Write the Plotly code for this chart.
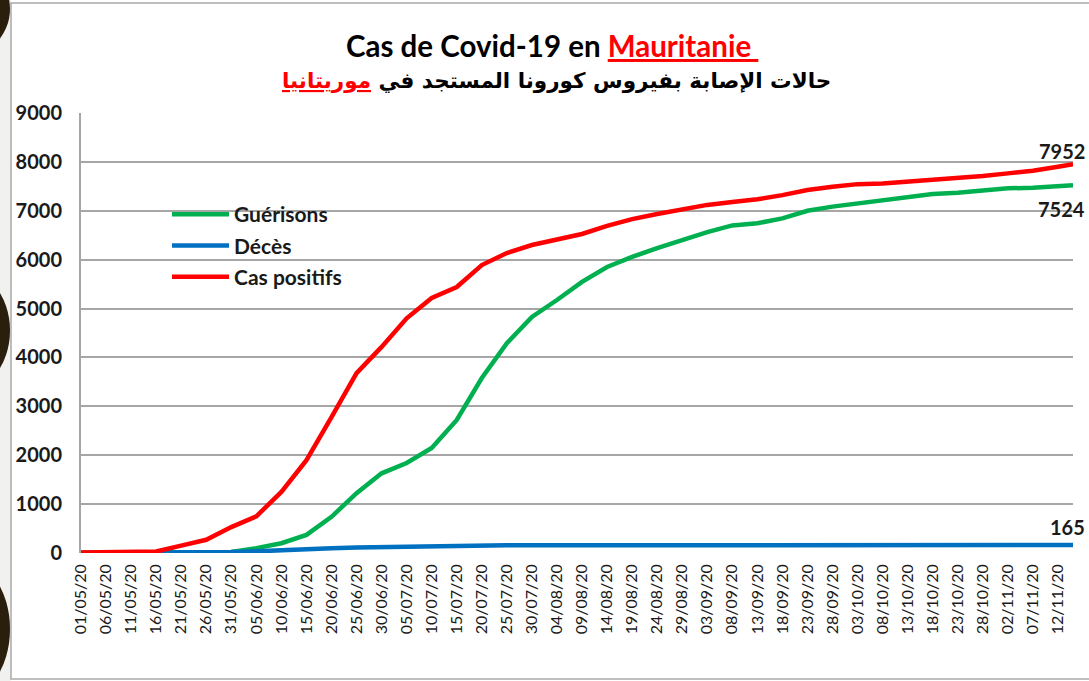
import plotly.graph_objects as go

# ---------------- data ----------------
dates = ["2020-05-01", "2020-05-06", "2020-05-11", "2020-05-16", "2020-05-21", "2020-05-26",
         "2020-05-31", "2020-06-05", "2020-06-10", "2020-06-15", "2020-06-20", "2020-06-25",
         "2020-06-30", "2020-07-05", "2020-07-10", "2020-07-15", "2020-07-20", "2020-07-25",
         "2020-07-30", "2020-08-04", "2020-08-09", "2020-08-14", "2020-08-19", "2020-08-24",
         "2020-08-29", "2020-09-03", "2020-09-08", "2020-09-13", "2020-09-18", "2020-09-23",
         "2020-09-28", "2020-10-03", "2020-10-08", "2020-10-13", "2020-10-18", "2020-10-23",
         "2020-10-28", "2020-11-02", "2020-11-07", "2020-11-12", "2020-11-15"]

cas_positifs = [8, 8, 9, 30, 150, 270, 530, 750, 1250, 1900, 2780, 3680, 4215, 4800, 5215,
                5440, 5890, 6135, 6300, 6420, 6525, 6690, 6830, 6935, 7035, 7120, 7180, 7235,
                7320, 7425, 7490, 7545, 7560, 7595, 7640, 7685, 7710, 7765, 7820, 7900, 7952]

guerisons = [6, 6, 6, 7, 8, 9, 20, 100, 200, 370, 740, 1225, 1630, 1840, 2150, 2720, 3580,
             4290, 4830, 5175, 5545, 5850, 6055, 6235, 6400, 6565, 6700, 6745, 6845, 7000,
             7085, 7150, 7235, 7300, 7345, 7370, 7425, 7460, 7470, 7505, 7524]

deces = [0, 0, 0, 1, 4, 9, 20, 35, 60, 80, 95, 110, 120, 125, 140, 150, 154, 156, 157, 157,
         158, 158, 159, 159, 160, 160, 160, 161, 161, 161, 162, 162, 162, 163, 163, 163, 163,
         164, 164, 165, 165]

series_names = ["Guérisons", "Décès", "Cas positifs"]
series_colors = ["#00b050", "#0070c0", "#ff0000"]

title_fr = "Cas de Covid-19 en "
title_fr_red = "Mauritanie "
title_ar = "حالات الإصابة بفيروس كورونا المستجد في "
title_ar_red = "موريتانيا"

# ---------------- geometry helpers ----------------
W, H = 1089, 681
L, R, T, B = 81, 16, 113, 128
PW, PH = W - L - R, H - T - B


def px(xp):
    return (xp - L) / PW


def py(yp):
    return (H - B - yp) / PH


fig = go.Figure()
for name, vals, col in zip(series_names, [guerisons, deces, cas_positifs], series_colors):
    fig.add_trace(go.Scatter(x=dates, y=vals, mode="lines", name=name, legendgroup=name,
                             line=dict(color=col, width=4.5)))

lab_font = dict(family="Lato", size=20, color="#1a1a1a", weight="bold")
# end labels (right edge kept just inside the picture)
fig.add_annotation(x=dates[-1], y=cas_positifs[-1], text=str(cas_positifs[-1]), showarrow=False,
                   xanchor="right", yanchor="middle", xshift=14, yshift=13, font=lab_font)
fig.add_annotation(x=dates[-1], y=guerisons[-1], text=str(guerisons[-1]), showarrow=False,
                   xanchor="right", yanchor="middle", xshift=14, yshift=-24, font=lab_font)
fig.add_annotation(x=dates[-1], y=deces[-1], text=str(deces[-1]), showarrow=False,
                   xanchor="right", yanchor="middle", xshift=14, yshift=18, font=lab_font)

# titles
fig.add_annotation(xref="paper", yref="paper", x=px(552), y=py(45), showarrow=False,
                   xanchor="center", yanchor="middle",
                   text=f"<b>{title_fr}<span style='color:#ff0000'><u>{title_fr_red}</u></span></b>",
                   font=dict(family="Lato", size=29.5, color="#000000"))
fig.add_annotation(xref="paper", yref="paper", x=px(556), y=py(80), showarrow=False,
                   xanchor="center", yanchor="middle",
                   text=f"<b>{title_ar}<span style='color:#ff0000'><u>{title_ar_red}</u></span></b>",
                   font=dict(family="DejaVu Sans", size=21.5, color="#000000"))

# frame decorations (screenshot border)
shapes = [
    dict(type="rect", xref="paper", yref="paper", x0=px(0), x1=px(11), y0=py(H + 5), y1=py(-5),
         fillcolor="#f1f1ef", line=dict(width=0), layer="below"),
    dict(type="rect", xref="paper", yref="paper", x0=px(11), x1=px(W + 20), y0=py(679), y1=py(3),
         fillcolor="rgba(0,0,0,0)", line=dict(color="#a9a9a9", width=1.5), layer="below"),
    dict(type="circle", xref="paper", yref="paper", x0=px(-90), x1=px(10), y0=py(58), y1=py(-40),
         fillcolor="#2a1e0c", line=dict(width=0), layer="below"),
    dict(type="circle", xref="paper", yref="paper", x0=px(-90), x1=px(10), y0=py(393), y1=py(268),
         fillcolor="#2a1e0c", line=dict(width=0), layer="below"),
    dict(type="circle", xref="paper", yref="paper", x0=px(-90), x1=px(10), y0=py(700), y1=py(558),
         fillcolor="#2a1e0c", line=dict(width=0), layer="below"),
]

fig.update_layout(
    width=W, height=H,
    margin=dict(l=L, r=R, t=T, b=B, pad=0),
    paper_bgcolor="#ffffff", plot_bgcolor="#ffffff",
    shapes=shapes,
    showlegend=True,
    legend=dict(x=px(167), y=py(194), xanchor="left", yanchor="top",
                bgcolor="rgba(0,0,0,0)", traceorder="grouped", tracegroupgap=1,
                itemwidth=57,
                font=dict(family="Lato", size=21, color="#1a1a1a", weight="bold")),
    xaxis=dict(type="date", range=[dates[0], dates[-1]], tick0=dates[0], dtick=5 * 86400000,
               tickformat="%d/%m/%y", tickangle=-90, showgrid=False, zeroline=False,
               showline=False, ticks="", ticklabelstandoff=7,
               tickfont=dict(family="Lato", size=16, color="#1a1a1a")),
    yaxis=dict(range=[0, 9000], dtick=1000, showgrid=True, gridcolor="#a6a6a6", gridwidth=2,
               zeroline=False, showline=True, linecolor="#a6a6a6", linewidth=2, ticks="",
               ticklabelstandoff=13,
               tickfont=dict(family="Lato", size=20, color="#1a1a1a", weight="bold")),
)

fig.write_html("out.html", config={"displayModeBar": False},
               post_script="document.body.style.margin='0';")
